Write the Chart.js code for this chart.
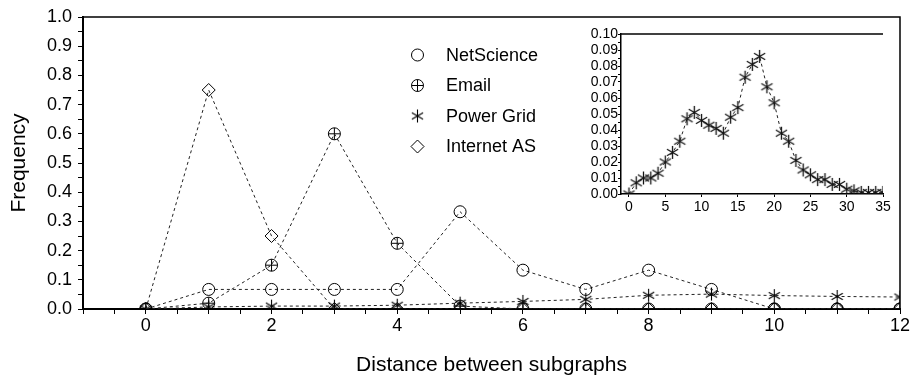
<!DOCTYPE html>
<html><head><meta charset="utf-8">
<script src="https://cdn.jsdelivr.net/npm/chart.js@4"></script>
<style>
html,body{margin:0;padding:0;background:#fff;}
#wrap{position:relative;width:912px;height:379px;overflow:hidden;}
#main{position:absolute;left:0;top:0;}
#inset{position:absolute;left:560px;top:22px;}
</style></head><body>
<div id="wrap"><canvas id="main" width="912" height="379"></canvas><canvas id="inset" width="340" height="200"></canvas></div>
<script>
// ---------- data ----------
const distances   = [0,1,2,3,4,5,6,7,8,9,10,11,12];
const netScience  = [0,0.067,0.067,0.067,0.067,0.333,0.133,0.067,0.133,0.067,0,0,0];
const email       = [0,0.02,0.15,0.6,0.225,0.01,0,0,0,0,0,0,0];
const internetAS  = [0,0.75,0.25,0,0,0,0,0,0,0,0,0,0];
const powerGridDistances = [0,1,2,3,4,5,6,7,8,9,10,11,12,13,14,15,16,17,18,19,20,21,22,23,24,25,26,27,28,29,30,31,32,33,34,35];
const powerGrid   = [0,0.007,0.010,0.010,0.013,0.020,0.026,0.033,0.047,0.051,0.046,0.043,0.041,0.038,0.048,0.054,0.073,0.081,0.086,0.067,0.057,0.038,0.033,0.021,0.015,0.012,0.009,0.009,0.006,0.006,0.003,0.002,0.001,0.001,0.001,0.001];
const seriesLabels = ['NetScience','Email','Power Grid','Internet AS'];
const mainXLabels  = [0,2,4,6,8,10,12];
const mainYLabels  = [0,0.1,0.2,0.3,0.4,0.5,0.6,0.7,0.8,0.9,1.0];
const insetXLabels = [0,5,10,15,20,25,30,35];
const insetYLabels = [0,0.01,0.02,0.03,0.04,0.05,0.06,0.07,0.08,0.09,0.10];

const FONT = "'Liberation Sans', Arial, sans-serif";
Chart.defaults.font.family = FONT;
Chart.defaults.color = '#000';

// ---------- custom asterisk marker image ----------
function makeAsterisk(len, lw, color){
  const s = Math.ceil(len*2+4), c = document.createElement('canvas');
  c.width = s; c.height = s;
  const g = c.getContext('2d'); g.strokeStyle = color; g.lineWidth = lw; g.lineCap='butt';
  const m = s/2;
  [90,30,150].forEach(a=>{
    const r = a*Math.PI/180, dx = Math.cos(r)*len, dy = Math.sin(r)*len;
    g.beginPath(); g.moveTo(m-dx,m-dy); g.lineTo(m+dx,m+dy); g.stroke();
  });
  return c;
}
const starImg = makeAsterisk(6.5, 1.1, '#000');
const insetStarImg = makeAsterisk(6.5, 1.3, '#111');

const pts = (xs, ys) => xs.map((x,i)=>({x, y: ys[i]}));
const clipArea = {left:false, top:false, right:0, bottom:0};
const lineCommon = {borderColor:'#222', borderWidth:1, borderDash:[3,3], pointBorderColor:'#000',
  pointBackgroundColor:'rgba(0,0,0,0)', pointBorderWidth:1, tension:0, clip:clipArea};

// ---------- plugins ----------
const framePlugin = {
  id:'frame',
  afterDraw(chart, args, opts){
    const {ctx, chartArea:a} = chart;
    ctx.save(); ctx.strokeStyle='#000'; ctx.lineWidth = opts.width || 1.5;
    ctx.beginPath(); ctx.moveTo(a.left, a.top); ctx.lineTo(a.right, a.top);
    if (opts.right) ctx.lineTo(a.right, a.bottom);
    ctx.stroke(); ctx.restore();
  }
};
const legendPlugin = {
  id:'customLegend',
  afterDraw(chart, args, opts){
    const ctx = chart.ctx; ctx.save();
    ctx.font = '18px ' + FONT; ctx.textBaseline='middle'; ctx.lineWidth = 1;
    opts.entries.forEach((idxs, i)=>{
      const y = opts.y + i*opts.spacing;
      idxs.forEach(di=>{
        const ds = chart.data.datasets[di];
        ctx.fillStyle = 'rgba(0,0,0,0)'; ctx.strokeStyle = '#000';
        Chart.helpers.drawPoint(ctx, {pointStyle: ds.pointStyle, radius: ds.pointRadius, borderWidth:1, rotation:0}, opts.x, y);
      });
      ctx.fillStyle = '#000';
      ctx.fillText(chart.data.datasets[idxs[0]].label, opts.textX, y + 1);
    });
    ctx.restore();
  }
};

// ---------- main chart ----------
const mainXTicks = []; for (let i=-2;i<=24;i++) mainXTicks.push(i/2);
const mainYTicks = []; for (let i=0;i<=20;i++) mainYTicks.push(i/20);

new Chart(document.getElementById('main'), {
  type:'line',
  data:{ datasets:[
    Object.assign({label:seriesLabels[0], data:pts(distances, netScience), pointStyle:'circle', pointRadius:6}, lineCommon),
    Object.assign({label:seriesLabels[1], data:pts(distances, email), pointStyle:'circle', pointRadius:6}, lineCommon),
    Object.assign({label:seriesLabels[1] + ' (+)', data:pts(distances, email), pointStyle:'cross', pointRadius:6, showLine:false}, lineCommon),
    Object.assign({label:seriesLabels[2], data:pts(distances, powerGrid.slice(0, distances.length)), pointStyle:starImg, pointRadius:6}, lineCommon),
    Object.assign({label:seriesLabels[3], data:pts(distances, internetAS), pointStyle:'rectRot', pointRadius:6.5}, lineCommon)
  ]},
  options:{
    responsive:false, animation:false, devicePixelRatio:1,
    layout:{padding:{left:0,right:12,top:17,bottom:0}},
    plugins:{legend:{display:false}, tooltip:{enabled:false},
      frame:{right:true, width:1.5},
      customLegend:{entries:[[0],[1,2],[3],[4]], x:417.5, y:55, spacing:30.5, textX:446}},
    scales:{
      x:{type:'linear', min:-1, max:12,
        afterBuildTicks:s=>{ s.ticks = mainXTicks.map(v=>({value:v})); },
        afterFit:s=>{ s.height = 70; },
        ticks:{autoSkip:false, maxRotation:0, padding:1, font:{size:18}, color:'#000',
          callback:v=> mainXLabels.includes(v) ? String(v) : ''},
        grid:{drawOnChartArea:false, color:'#000', tickLength:5, lineWidth:1},
        border:{color:'#000', width:2},
        title:{display:true, text:'Distance between subgraphs', font:{size:21}, color:'#000', padding:{top:0,bottom:1}}
      },
      y:{type:'linear', min:0, max:1,
        afterBuildTicks:s=>{ s.ticks = mainYTicks.map(v=>({value:v})); },
        afterFit:s=>{ s.width = 83; },
        ticks:{autoSkip:false, padding:6, font:{size:18}, color:'#000',
          callback:v=> mainYLabels.some(l=>Math.abs(l-v)<1e-9) ? v.toFixed(1) : ''},
        grid:{drawOnChartArea:false, color:'#000', tickLength:5, lineWidth:1},
        border:{color:'#000', width:2},
        title:{display:true, text:'Frequency', font:{size:21}, color:'#000', padding:{top:7,bottom:0}}
      }
    }
  },
  plugins:[framePlugin, legendPlugin]
});

// ---------- inset chart ----------
const insetYTicks = []; for (let i=0;i<=20;i++) insetYTicks.push(i/200);
new Chart(document.getElementById('inset'), {
  type:'line',
  data:{ datasets:[
    Object.assign({label:seriesLabels[2], data:pts(powerGridDistances, powerGrid), pointStyle:insetStarImg, pointRadius:6}, lineCommon)
  ]},
  options:{
    responsive:false, animation:false, devicePixelRatio:1,
    layout:{padding:{left:0,right:17,top:12,bottom:0}},
    plugins:{legend:{display:false}, tooltip:{enabled:false}, frame:{right:false, width:1.5}},
    scales:{
      x:{type:'linear', min:-1.1, max:35,
        afterBuildTicks:s=>{ s.ticks = insetXLabels.map(v=>({value:v})); },
        afterFit:s=>{ s.height = 28; },
        ticks:{autoSkip:false, maxRotation:0, padding:2, font:{size:14}, color:'#000', callback:v=>String(v)},
        grid:{drawOnChartArea:false, color:'#000', tickLength:3, lineWidth:1},
        border:{color:'#000', width:1.5}
      },
      y:{type:'linear', min:0, max:0.1,
        afterBuildTicks:s=>{ s.ticks = insetYTicks.map(v=>({value:v})); },
        afterFit:s=>{ s.width = 61; },
        ticks:{autoSkip:false, padding:0, font:{size:14}, color:'#000',
          callback:v=> insetYLabels.some(l=>Math.abs(l-v)<1e-9) ? v.toFixed(2) : ''},
        grid:{drawOnChartArea:false, color:'#000', tickLength:3, lineWidth:1},
        border:{color:'#000', width:1.5}
      }
    }
  },
  plugins:[framePlugin]
});
</script>
</body></html>
